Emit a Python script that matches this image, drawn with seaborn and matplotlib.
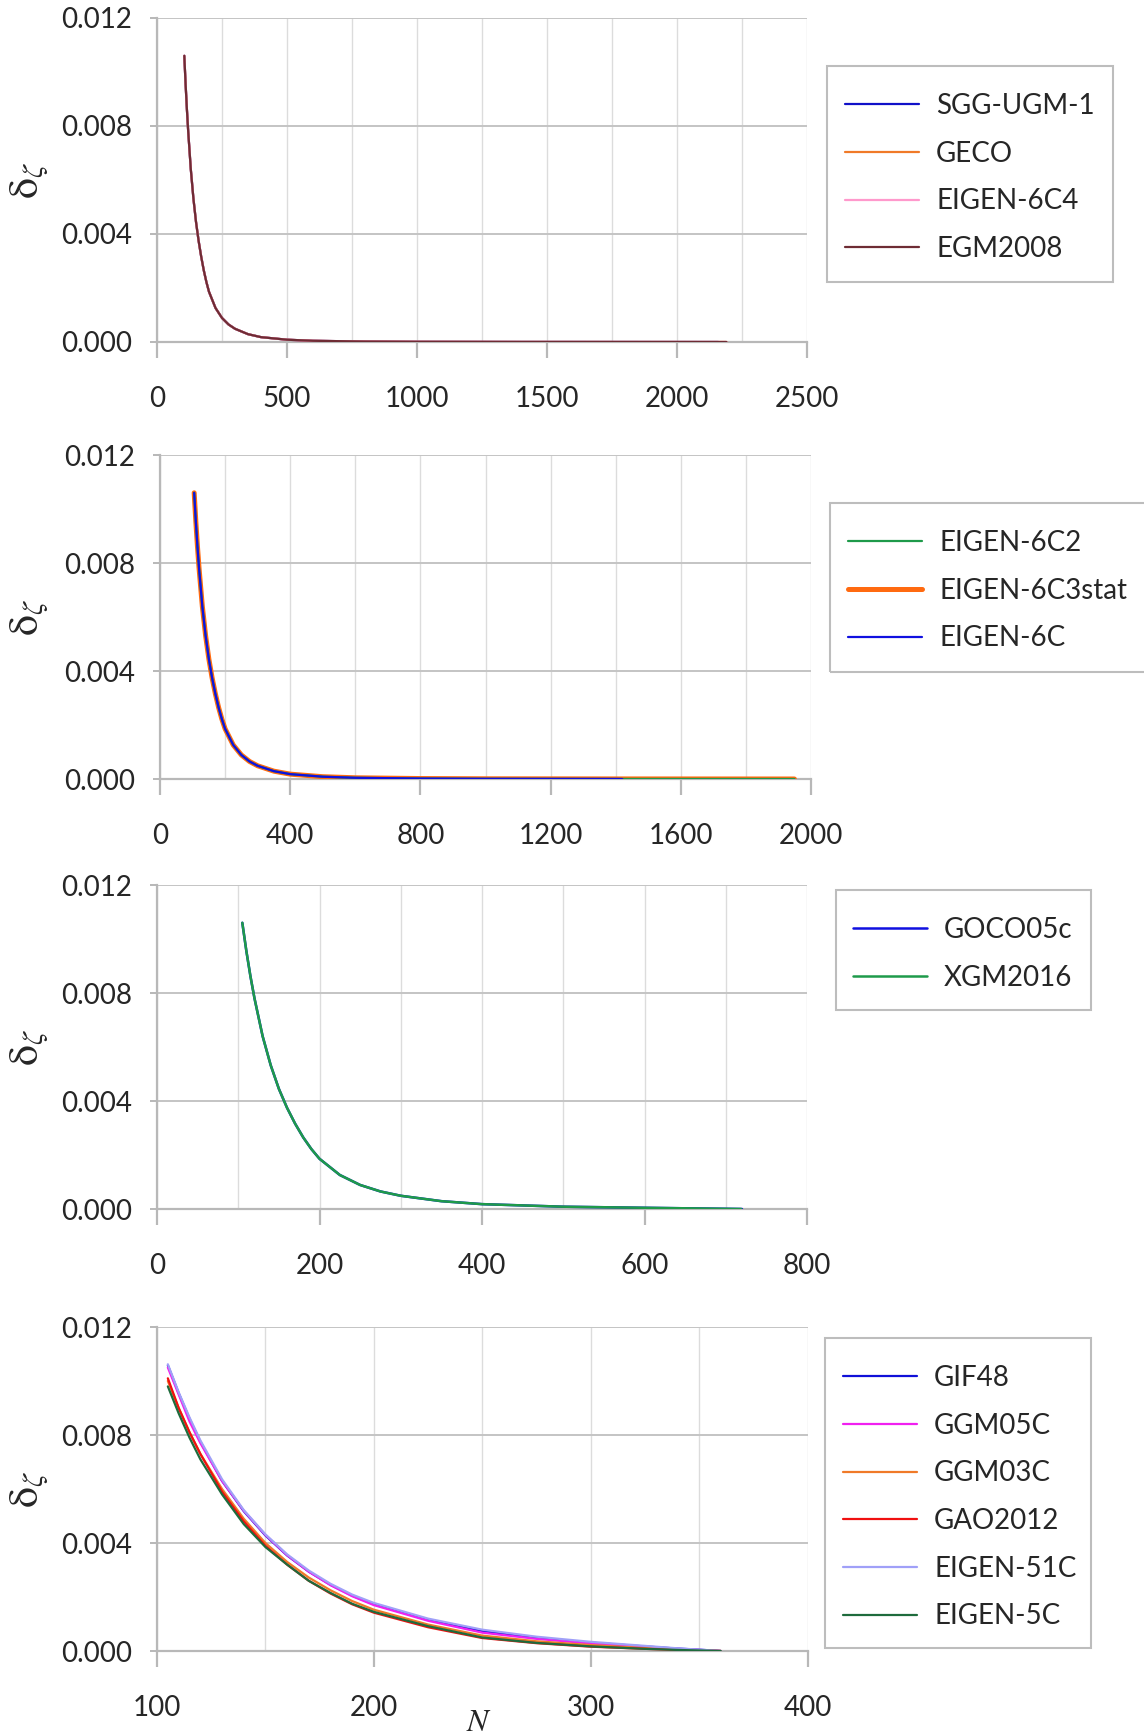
import matplotlib
matplotlib.use("Agg")
import matplotlib.pyplot as plt
import seaborn as sns
import pandas as pd
from matplotlib.patches import Rectangle
from matplotlib.ticker import MultipleLocator, FormatStrFormatter

# ---------------------------------------------------------------------------
# Data: degree N and error-degree value delta_zeta
# ---------------------------------------------------------------------------
# high-resolution models (shared curve shape, cut at each model's max degree)
deg_hi = [105, 110, 115, 120, 130, 140, 150, 160, 170, 180, 190, 200, 225, 250,
          275, 300, 350, 400, 500, 600, 800, 1000, 1400, 2000]
dz_hi = [0.01060, 0.00955, 0.00862, 0.00780, 0.00640, 0.00532, 0.00445, 0.00375,
         0.00316, 0.00265, 0.00222, 0.00186, 0.00126, 0.00089, 0.00065, 0.00049,
         0.00029, 0.00018, 0.000085, 0.000045, 0.000017, 0.0000075, 0.0000024,
         0.0000006]

models_p1 = ["SGG-UGM-1", "GECO", "EIGEN-6C4", "EGM2008"]
nmax_p1 = [2159, 2190, 2190, 2190]
colors_p1 = ["#1010C8", "#F07A28", "#FF99CC", "#6E2C34"]

models_p2 = ["EIGEN-6C2", "EIGEN-6C3stat", "EIGEN-6C"]
nmax_p2 = [1949, 1949, 1420]
colors_p2 = ["#1E9A4A", "#FF6A10", "#1010E0"]

models_p3 = ["GOCO05c", "XGM2016"]
nmax_p3 = [720, 719]
colors_p3 = ["#1010E0", "#1E9A4A"]

# degree-360 models
deg_lo = [105, 110, 115, 120, 130, 140, 150, 160, 170, 180, 190, 200, 225, 250,
          275, 300, 325, 340, 350, 360]
dz_gif48 = [0.01058, 0.00955, 0.00860, 0.00775, 0.00630, 0.00518, 0.00428, 0.00354,
            0.00294, 0.00245, 0.00205, 0.00173, 0.00115, 0.00074, 0.00049, 0.00031,
            0.00017, 0.00009, 0.00005, 0.0]
dz_ggm05c = [0.01050, 0.00950, 0.00850, 0.00770, 0.00630, 0.00520, 0.00430, 0.00355,
             0.00294, 0.00244, 0.00203, 0.00170, 0.00112, 0.00068, 0.00045, 0.00028,
             0.00015, 0.00008, 0.00004, 0.0]
dz_ggm03c = [0.01000, 0.00900, 0.00810, 0.00730, 0.00600, 0.00490, 0.00400, 0.00330,
             0.00272, 0.00225, 0.00185, 0.00153, 0.00098, 0.00057, 0.00036, 0.00022,
             0.00011, 0.00006, 0.00003, 0.0]
dz_gao2012 = [0.01010, 0.00900, 0.00810, 0.00730, 0.00590, 0.00480, 0.00390, 0.00320,
              0.00260, 0.00213, 0.00173, 0.00142, 0.00088, 0.00048, 0.00029, 0.00016,
              0.00008, 0.00004, 0.00002, 0.0]
dz_eigen51c = [0.01062, 0.00958, 0.00865, 0.00780, 0.00636, 0.00522, 0.00432, 0.00358,
               0.00298, 0.00249, 0.00209, 0.00178, 0.00120, 0.00079, 0.00053, 0.00034,
               0.00019, 0.00010, 0.00005, 0.0]
dz_eigen5c = [0.00980, 0.00880, 0.00790, 0.00710, 0.00580, 0.00470, 0.00385, 0.00320,
              0.00260, 0.00215, 0.00175, 0.00145, 0.00092, 0.00050, 0.00030, 0.00017,
              0.00008, 0.00004, 0.00002, 0.0]

models_p4 = ["GIF48", "GGM05C", "GGM03C", "GAO2012", "EIGEN-51C", "EIGEN-5C"]
values_p4 = [dz_gif48, dz_ggm05c, dz_ggm03c, dz_gao2012, dz_eigen51c, dz_eigen5c]
colors_p4 = ["#1010D8", "#F020F0", "#F07A28", "#F01010", "#A0A0F8", "#1E6B3C"]

# ---------------------------------------------------------------------------
sns.set_style("white")
plt.rcParams["font.family"] = ["Lato", "DejaVu Sans"]
plt.rcParams["mathtext.fontset"] = "stix"

W, H = 1144, 1735
fig = plt.figure(figsize=(W / 100, H / 100), dpi=100)

GRID_MAJ = "#C4C4C4"
GRID_MIN = "#DCDCDC"
AXIS_C = "#B8B8B8"
FS = 20


def add_panel(left, right, top, bottom):
    return fig.add_axes([left / W, 1 - bottom / H, (right - left) / W, (bottom - top) / H])


def hi_frame(name, nmax):
    n = [d for d in deg_hi if d < nmax] + [nmax]
    v = [z for d, z in zip(deg_hi, dz_hi) if d < nmax] + [0.0]
    return pd.DataFrame({"N": n, "dz": v, "model": name})


def style_axes(ax, xmin, xmax, xmajor, xminor):
    ax.set_xlim(xmin, xmax)
    ax.set_ylim(0, 0.012)
    ax.xaxis.set_major_locator(MultipleLocator(xmajor))
    ax.xaxis.set_minor_locator(MultipleLocator(xminor))
    ax.yaxis.set_major_locator(MultipleLocator(0.004))
    ax.yaxis.set_major_formatter(FormatStrFormatter("%.3f"))
    ax.grid(False)
    ax.grid(True, axis="x", which="both", color=GRID_MIN, lw=1.0, zorder=0)
    ax.grid(True, axis="y", which="major", color=GRID_MAJ, lw=1.4, zorder=0)
    for s in ["top", "right"]:
        ax.spines[s].set_visible(False)
    for s in ["left", "bottom"]:
        ax.spines[s].set_color(AXIS_C)
        ax.spines[s].set_linewidth(1.6)
    ax.tick_params(axis="x", which="major", length=11.5, width=1.6, color=AXIS_C,
                   pad=20, labelsize=FS, direction="out", bottom=True)
    ax.tick_params(axis="x", which="minor", length=0)
    ax.tick_params(axis="y", which="major", length=5, width=1.4, color=AXIS_C,
                   pad=13, labelsize=FS, direction="out", left=True)
    ax.set_xlabel("")
    ax.set_ylabel("")
    ax.set_axisbelow(True)


def add_legend(ax, box, line_x, first_row_y):
    """Legend entries start at line_x, first row centred on first_row_y;
    box = (left, top, right, bottom) of the surrounding frame, in pixels."""
    leg = ax.legend(loc="upper left",
                    bbox_to_anchor=(line_x / W, 1 - (first_row_y - 10) / H),
                    bbox_transform=fig.transFigure, frameon=False, fontsize=FS,
                    borderpad=0, handlelength=2.66, handletextpad=0.62,
                    labelspacing=0.78, borderaxespad=0)
    l, t, r, b = box
    fig.add_artist(Rectangle((l / W, 1 - b / H), (r - l) / W, (b - t) / H,
                             transform=fig.transFigure, facecolor="none",
                             edgecolor="#BDBDBD", lw=1.5))
    return leg


def ylabel(yc):
    fig.text(30 / W, 1 - yc / H, r"$\mathrm{\delta}_{\zeta}$", rotation=90,
             fontsize=30, ha="center", va="center")


# Panel 1 ------------------------------------------------------------------
ax1 = add_panel(157, 807, 18, 342)
for name, nmax, c in zip(models_p1, nmax_p1, colors_p1):
    sns.lineplot(data=hi_frame(name, nmax), x="N", y="dz", ax=ax1, color=c,
                 lw=1.6, label=name, zorder=3)
style_axes(ax1, 0, 2500, 500, 250)
add_legend(ax1, (827, 66, 1113, 282), 845, 103)
ylabel(180)

# Panel 2 ------------------------------------------------------------------
ax2 = add_panel(160, 811, 455, 779)
widths_p2 = [1.6, 3.6, 1.6]
zorders_p2 = [4, 3, 5]
for name, nmax, c, lw, z in zip(models_p2, nmax_p2, colors_p2, widths_p2, zorders_p2):
    sns.lineplot(data=hi_frame(name, nmax), x="N", y="dz", ax=ax2, color=c,
                 lw=lw, label=name, zorder=z)
style_axes(ax2, 0, 2000, 400, 200)
add_legend(ax2, (830, 503, 1152, 672), 848, 540)
ylabel(617)

# Panel 3 ------------------------------------------------------------------
ax3 = add_panel(157, 807, 885, 1209)
for name, nmax, c in zip(models_p3, nmax_p3, colors_p3):
    sns.lineplot(data=hi_frame(name, nmax), x="N", y="dz", ax=ax3, color=c,
                 lw=1.8, label=name, zorder=3)
style_axes(ax3, 0, 800, 200, 100)
add_legend(ax3, (836, 890, 1091, 1010), 853, 927)
ylabel(1047)

# Panel 4 ------------------------------------------------------------------
ax4 = add_panel(157, 807.5, 1327, 1651)
for name, vals, c in zip(models_p4, values_p4, colors_p4):
    df = pd.DataFrame({"N": deg_lo, "dz": vals})
    sns.lineplot(data=df, x="N", y="dz", ax=ax4, color=c, lw=1.6, label=name,
                 zorder=3)
style_axes(ax4, 100, 400, 100, 50)
add_legend(ax4, (825, 1338, 1091, 1648), 843, 1375)
ylabel(1489)
fig.text(479 / W, 1 - 1722 / H, r"$N$", fontsize=23, ha="center", va="center")

fig.savefig("out.png", dpi=100)
